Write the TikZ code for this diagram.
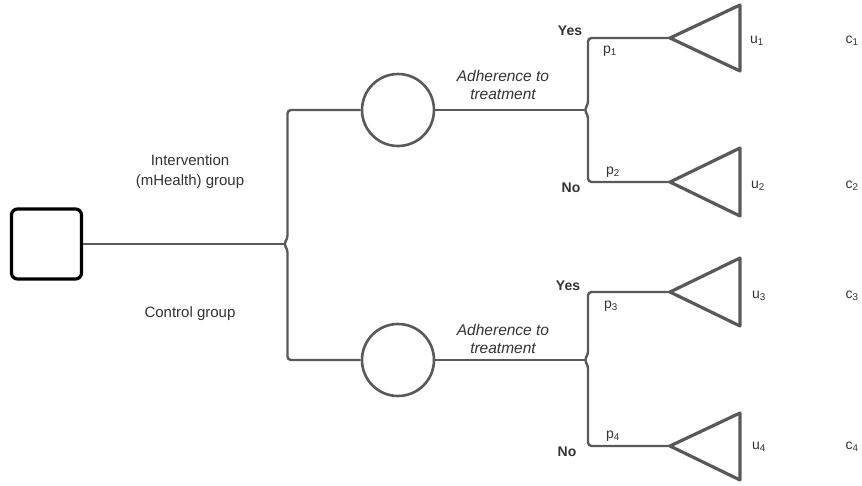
\documentclass[tikz,border=0pt]{standalone}
\usepackage{fontspec}
\setmainfont{Liberation Sans}
\begin{document}
\begin{tikzpicture}[x=1pt,y=-1pt,line join=round,
  ln/.style={draw=lc,line width=2.4pt},
  tri/.style={draw=lc,line width=3.2pt,line join=round},
  lbl/.style={font=\fontsize{15}{20}\selectfont,text=tc,inner sep=0pt,align=center},
  adh/.style={font=\fontsize{15.5}{18}\selectfont\itshape,text=tc,inner sep=0pt,align=center},
  yn/.style={font=\fontsize{14}{16}\selectfont\bfseries,text=tc,inner sep=0pt},
  sm/.style={font=\fontsize{14}{16}\selectfont,text=tc,inner sep=0pt}]
\definecolor{lc}{HTML}{595959}
\definecolor{tc}{HTML}{333333}
\useasboundingbox (0,0) rectangle (862,485);
% decision node
\node[draw=black,line width=3.2pt,rounded corners=6pt,minimum size=70pt,inner sep=0pt] (dec) at (46.5,244) {};
% chance nodes
\node[circle,draw=lc,line width=2.6pt,minimum size=72pt,inner sep=0pt] (ch1) at (398,110) {};
\node[circle,draw=lc,line width=2.6pt,minimum size=72pt,inner sep=0pt] (ch2) at (398,360) {};
% junctions
\coordinate (j0) at (283.5,244);
\coordinate (k1) at (584,110);
\coordinate (k2) at (584,360);
% terminal tips
\coordinate (t1) at (670,38);
\coordinate (t2) at (670,182);
\coordinate (t3) at (670,292);
\coordinate (t4) at (670,446);
% main branch
\draw[ln] (dec.east) -- (j0);
\draw[ln,rounded corners=3.5pt] (ch1.west) -- (287.5,110) -- (287.5,239) -- (j0) -- (287.5,249) -- (287.5,360) -- (ch2.west);
% sub branches
\draw[ln] (ch1.east) -- (k1);
\draw[ln,rounded corners=3.5pt] (t1) -- (588,38) -- (588,105) -- (k1) -- (588,115) -- (588,182) -- (t2);
\draw[ln] (ch2.east) -- (k2);
\draw[ln,rounded corners=3.5pt] (t3) -- (588,292) -- (588,355) -- (k2) -- (588,365) -- (588,446) -- (t4);
% terminal triangles
\draw[tri] (t1) -- ++(70,-33) -- ++(0,66) -- cycle;
\draw[tri] (t2) -- ++(70,-34) -- ++(0,68) -- cycle;
\draw[tri] (t3) -- ++(70,-34) -- ++(0,68) -- cycle;
\draw[tri] (t4) -- ++(70,-33) -- ++(0,67) -- cycle;
% labels
\node[lbl] (li) at (190,172) {Intervention\\(mHealth) group};
\node[lbl] (lc) at (190,314) {Control group};
\node[adh] (a1) at (503,85) {Adherence to\\treatment};
\node[adh] (a2) at (503,339) {Adherence to\\treatment};
\node[yn] (y1) at (570,31) {Yes};
\node[yn] (n1) at (571,188) {No};
\node[yn] (y2) at (568,286) {Yes};
\node[yn] (n2) at (567,452) {No};
\node[sm] (p1) at (610,51) {p\textsubscript{1}};
\node[sm] (p2) at (613,172) {p\textsubscript{2}};
\node[sm] (p3) at (611,306) {p\textsubscript{3}};
\node[sm] (p4) at (613,436) {p\textsubscript{4}};
\node[sm] (u1) at (757,41) {u\textsubscript{1}};
\node[sm] (u2) at (758,186) {u\textsubscript{2}};
\node[sm] (u3) at (759,296) {u\textsubscript{3}};
\node[sm] (u4) at (759,447) {u\textsubscript{4}};
\node[sm] (c1) at (852,41) {c\textsubscript{1}};
\node[sm] (c2) at (852,186) {c\textsubscript{2}};
\node[sm] (c3) at (852,296) {c\textsubscript{3}};
\node[sm] (c4) at (852,447) {c\textsubscript{4}};
\end{tikzpicture}
\end{document}
